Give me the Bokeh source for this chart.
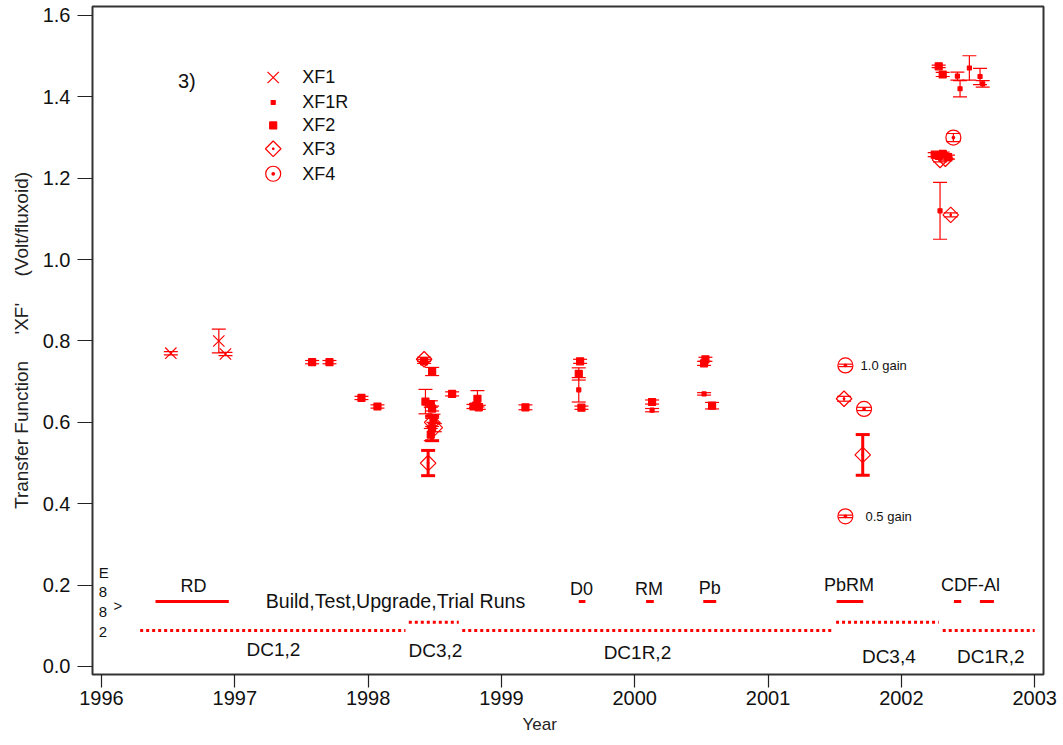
import numpy as np
from bokeh.plotting import figure
from bokeh.models import ColumnDataSource, Range1d, FixedTicker, NumeralTickFormatter, Title
from bokeh.core.properties import value
from bokeh.embed import file_html
from bokeh.resources import INLINE

RED = "#ff0000"
FONT = "Liberation Sans"

# ---------------- data ----------------
xf1_x = [1996.52, 1996.88, 1996.93]
xf1_y = [0.770, 0.800, 0.768]
xf1_e = [0.004, 0.029, 0.004]

xf1r_x = [1999.58, 2000.13, 2000.52, 2002.29, 2002.42, 2002.51, 2002.44, 2002.59, 2002.61]
xf1r_y = [0.680, 0.630, 0.670, 1.120, 1.451, 1.471, 1.420, 1.450, 1.432]
xf1r_e = [0.030, 0.004, 0.003, 0.070, 0.010, 0.030, 0.020, 0.020, 0.008]

xf2_x = [1997.58, 1997.71, 1997.95, 1998.07, 1998.42, 1998.48, 1998.43, 1998.47, 1998.48,
         1998.49, 1998.48, 1998.47, 1998.63, 1998.79, 1998.81, 1998.82, 1998.83, 1999.18,
         1999.59, 1999.58, 1999.60, 2000.13, 2000.52, 2000.53, 2000.58,
         2002.28, 2002.31, 2002.25, 2002.28, 2002.31, 2002.35]
xf2_y = [0.748, 0.748, 0.660, 0.639, 0.750, 0.725, 0.651, 0.645, 0.634,
         0.610, 0.585, 0.570, 0.670, 0.639, 0.641, 0.658, 0.637, 0.637,
         0.750, 0.719, 0.636, 0.650, 0.745, 0.755, 0.641,
         1.475, 1.455, 1.258, 1.255, 1.260, 1.252]
xf2_e = [0.004, 0.004, 0.004, 0.004, 0.005, 0.010, 0.030, 0.008, 0.006,
         0.010, 0.030, 0.015, 0.005, 0.005, 0.005, 0.020, 0.005, 0.006,
         0.005, 0.015, 0.004, 0.005, 0.005, 0.005, 0.008,
         0.003, 0.005, 0.005, 0.005, 0.004, 0.005]

xf3_x = [1998.42, 1998.45, 1998.48, 1998.50, 2001.57, 2001.71, 2002.29, 2002.33, 2002.37]
xf3_y = [0.755, 0.500, 0.600, 0.587, 0.658, 0.520, 1.245, 1.248, 1.110]
xf3_e = [0.005, 0.031, 0.010, 0.010, 0.006, 0.050, 0.005, 0.005, 0.005]

xf4_x = [2001.58, 2001.72, 2001.58, 2002.39]
xf4_y = [0.740, 0.633, 0.369, 1.300]
xf4_e = [0.003, 0.004, 0.003, 0.010]

legend_labels = ["XF1", "XF1R", "XF2", "XF3", "XF4"]

# run periods (solid bars at y=0.16)
run_names = ["RD", "D0", "RM", "Pb", "PbRM", "CDF-Al", ""]
run_start = [1996.405, 1999.58, 2000.085, 2000.514, 2001.514, 2002.394, 2002.589]
run_end = [1996.955, 1999.63, 2000.143, 2000.611, 2001.714, 2002.449, 2002.694]
run_level = 0.16

# data-collection configurations (dotted)
dc_names = ["DC1,2", "DC3,2", "DC1R,2", "DC3,4", "DC1R,2"]
dc_start = [1996.29, 1998.305, 1998.706, 2001.51, 2002.31]
dc_end = [1998.28, 1998.68, 2001.48, 2002.28, 2003.00]
dc_level = [0.0885, 0.109, 0.0885, 0.109, 0.0885]

# ---------------- figure ----------------
W, H = 1063, 745
p = figure(width=W, height=H, output_backend="svg", toolbar_location=None,
           x_range=Range1d(1995.9325, 2003.066), y_range=Range1d(-0.0197, 1.6221),
           min_border_left=92, min_border_right=W - 1043, min_border_top=6,
           min_border_bottom=H - 674)
p.grid.visible = False
p.outline_line_color = "#333333"
p.outline_line_width = 2
p.background_fill_color = "white"
p.border_fill_color = "white"

for ax in (p.xaxis[0], p.yaxis[0]):
    ax.axis_line_color = None
    ax.minor_tick_line_color = None
    ax.major_tick_in = 0
    ax.major_tick_line_color = "#222222"
    ax.major_tick_line_width = 1.2
    ax.major_label_text_font = FONT
    ax.major_label_text_font_size = "20px"
    ax.major_label_text_color = "#111111"
    ax.axis_label_text_font = FONT
    ax.axis_label_text_font_style = "normal"
    ax.axis_label_text_color = "#222222"

p.xaxis.ticker = FixedTicker(ticks=list(range(1996, 2004)))
p.xaxis.major_tick_out = 13
p.xaxis.major_label_standoff = 3

p.yaxis.ticker = FixedTicker(ticks=[0.0, 0.2, 0.4, 0.6, 0.8, 1.0, 1.2, 1.4, 1.6])
p.yaxis.formatter = NumeralTickFormatter(format="0.0")
p.yaxis.major_tick_out = 15
p.yaxis.major_label_standoff = 7
nb = "\u00a0"
p.yaxis.axis_label = "Transfer Function" + nb * 5 + "'XF'" + nb * 5 + "(Volt/fluxoid)"
p.yaxis.axis_label_text_font_size = "19px"
p.yaxis.axis_label_standoff = 8

# x-axis title ("Year"), placed left of centre as in the original
p.add_layout(Title(text="Year", align="left", offset=430, standoff=10,
                   text_font=FONT, text_font_size="17px", text_font_style="normal",
                   text_color="#222222"), "below")


def add_series(xs, ys, es, marker, size, fill=True, thick=(), angle=0.0):
    ys = np.asarray(ys, dtype=float)
    es = np.asarray(es, dtype=float)
    lw = [3.0 if i in thick else 1.2 for i in range(len(xs))]
    src = ColumnDataSource(dict(x=xs, y=ys, lo=ys - es, hi=ys + es, lw=lw))
    p.segment(x0="x", y0="lo", x1="x", y1="hi", source=src, line_color=RED, line_width="lw")
    for key in ("lo", "hi"):
        p.scatter(x="x", y=key, source=src, marker="dash", size=14,
                  line_color=RED, line_width="lw")
    p.scatter(x="x", y="y", source=src, marker=marker, size=size, angle=angle,
              line_color=RED, line_width=1.2, fill_color=RED if fill else None)


styles = [("x", 16, False, 0.0), ("square", 4, True, 0.0), ("square", 7, True, 0.0),
          ("square_dot", 11, False, np.pi / 4), ("circle_dot", 15, False, 0.0)]

add_series(xf1_x, xf1_y, xf1_e, *styles[0][:3])
add_series(xf1r_x, xf1r_y, xf1r_e, *styles[1][:3])
add_series(xf2_x, xf2_y, xf2_e, *styles[2][:3], thick=(10,))
add_series(xf3_x, xf3_y, xf3_e, *styles[3][:3], thick=(1, 5), angle=styles[3][3])
add_series(xf4_x, xf4_y, xf4_e, *styles[4][:3])

# legend (manual, to keep the true marker sizes)
leg_mx, leg_tx = 1997.288, 1997.505
leg_y = [1.4476, 1.3862, 1.3297, 1.2724, 1.211]
for (mk, sz, fl, ang), ly, lab in zip(styles, leg_y, legend_labels):
    p.scatter(x=[leg_mx], y=[ly], marker=mk, size=sz, angle=ang, line_color=RED,
              line_width=1.2, fill_color=RED if fl else None)
    p.text(x=[leg_tx], y=[ly], text=[lab], text_font=value(FONT), text_font_size="18px",
           text_align="left", text_baseline="middle", text_color="#111111")

# run bars
p.segment(x0=run_start, y0=[run_level] * len(run_start), x1=run_end,
          y1=[run_level] * len(run_start), line_color=RED, line_width=3)
# DC dotted periods
p.segment(x0=dc_start, y0=dc_level, x1=dc_end, y1=dc_level,
          line_color=RED, line_width=3, line_dash="3 3")


def txt(x, y, s, size, align="center"):
    p.text(x=[x], y=[y], text=[s], text_font=value(FONT), text_font_size=size,
           text_align=align, text_baseline="middle", text_color="#111111")


txt(1996.64, 1.44, "3)", "20px")
txt(2001.694, 0.740, "1.0 gain", "13px", "left")
txt(2001.731, 0.369, "0.5 gain", "13px", "left")

run_lab_x = [1996.69, 1999.60, 2000.106, 2000.563, 2001.607, 2002.519]
run_lab_y = [0.199, 0.191, 0.191, 0.193, 0.200, 0.200]
for nm, x, y in zip(run_names[:6], run_lab_x, run_lab_y):
    txt(x, y, nm, "18px")
txt(1998.205, 0.162, "Build,Test,Upgrade,Trial Runs", "19.6px")

dc_lab_x = [1997.29, 1998.505, 2000.02, 2001.906, 2002.67]
dc_lab_y = [0.042, 0.039, 0.035, 0.0246, 0.0246]
for nm, x, y in zip(dc_names, dc_lab_x, dc_lab_y):
    txt(x, y, nm, "19px")

for s, x, y in [("E", 1995.98, 0.231), ("8", 1995.98, 0.184), ("8", 1995.98, 0.133),
                ("2", 1995.98, 0.084), (">", 1996.09, 0.150)]:
    txt(x, y, s, "15px", "left")

open("out.html", "w").write(file_html(p, INLINE))
